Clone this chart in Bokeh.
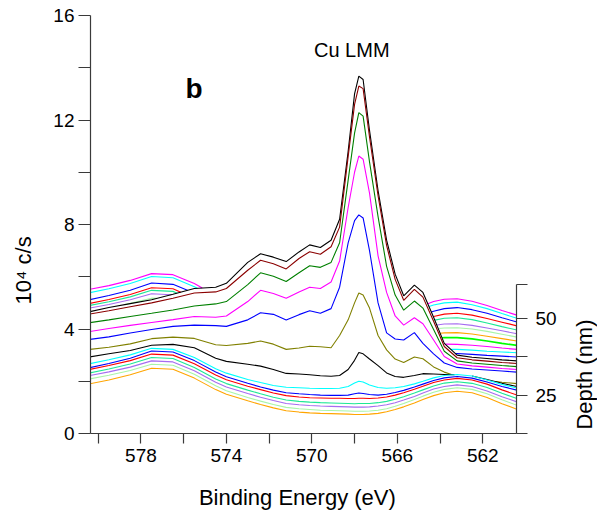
import math
from bokeh.plotting import figure
from bokeh.layouts import row
from bokeh.models import Range1d, LinearAxis, FixedTicker, Label
from bokeh.core.properties import value
from bokeh.embed import file_html
from bokeh.resources import INLINE

# ---------------- data ----------------
energy = [580.4, 579.5, 578.5, 577.5, 576.5, 575.5, 574.5, 574.0, 573.0, 572.4,
          571.8, 571.2, 570.6, 570.1, 569.6, 569.1, 568.7, 568.3, 568.0, 567.8,
          567.6, 567.3, 566.9, 566.5, 566.1, 565.7, 565.2, 564.8, 564.3, 563.8,
          563.2, 562.5, 561.8, 561.1, 560.4]

# front (surface) spectra, bottom of the stack
s01_orange = [1.90, 2.05, 2.25, 2.50, 2.46, 2.12, 1.68, 1.50, 1.25, 1.11, 0.98, 0.87, 0.82, 0.79, 0.77, 0.76, 0.75, 0.74, 0.73, 0.73, 0.73, 0.74, 0.77, 0.83, 0.92, 1.02, 1.17, 1.30, 1.45, 1.56, 1.62, 1.56, 1.38, 1.14, 0.93]
s02_palegreen = [2.09, 2.23, 2.41, 2.65, 2.61, 2.27, 1.83, 1.64, 1.38, 1.24, 1.11, 1.00, 0.95, 0.92, 0.89, 0.88, 0.87, 0.86, 0.85, 0.85, 0.85, 0.86, 0.89, 0.95, 1.04, 1.15, 1.30, 1.43, 1.58, 1.69, 1.75, 1.69, 1.52, 1.29, 1.08]
s03_purple = [2.22, 2.36, 2.54, 2.78, 2.74, 2.40, 1.96, 1.78, 1.53, 1.39, 1.26, 1.15, 1.10, 1.07, 1.05, 1.04, 1.03, 1.02, 1.01, 1.01, 1.01, 1.02, 1.05, 1.10, 1.18, 1.28, 1.42, 1.55, 1.70, 1.80, 1.86, 1.80, 1.63, 1.41, 1.21]
s04_teal = [2.32, 2.47, 2.66, 2.91, 2.87, 2.53, 2.09, 1.91, 1.66, 1.52, 1.39, 1.28, 1.23, 1.20, 1.18, 1.17, 1.16, 1.15, 1.14, 1.15, 1.15, 1.15, 1.18, 1.23, 1.31, 1.41, 1.55, 1.67, 1.82, 1.93, 1.98, 1.92, 1.76, 1.54, 1.34]
s05_red = [2.45, 2.60, 2.79, 3.04, 3.00, 2.67, 2.24, 2.06, 1.81, 1.68, 1.55, 1.45, 1.40, 1.37, 1.36, 1.35, 1.35, 1.34, 1.34, 1.35, 1.35, 1.34, 1.36, 1.40, 1.47, 1.56, 1.69, 1.81, 1.95, 2.05, 2.11, 2.05, 1.89, 1.67, 1.47]
s06_blue = [2.52, 2.68, 2.88, 3.16, 3.12, 2.79, 2.35, 2.17, 1.92, 1.78, 1.66, 1.56, 1.52, 1.49, 1.47, 1.46, 1.46, 1.47, 1.52, 1.55, 1.53, 1.49, 1.47, 1.50, 1.57, 1.65, 1.78, 1.89, 2.03, 2.13, 2.18, 2.12, 1.97, 1.80, 1.66]
s07_cyan = [2.67, 2.82, 3.01, 3.26, 3.22, 2.91, 2.48, 2.31, 2.07, 1.95, 1.84, 1.77, 1.75, 1.73, 1.72, 1.72, 1.73, 1.80, 1.93, 2.00, 1.97, 1.86, 1.76, 1.73, 1.75, 1.80, 1.90, 2.00, 2.13, 2.22, 2.26, 2.20, 2.05, 1.88, 1.74]
# Cu-rich spectra
s08_black = [2.93, 3.05, 3.18, 3.38, 3.41, 3.28, 2.88, 2.76, 2.65, 2.58, 2.45, 2.30, 2.28, 2.25, 2.21, 2.19, 2.22, 2.45, 2.80, 3.10, 3.05, 2.85, 2.60, 2.32, 2.18, 2.15, 2.22, 2.29, 2.28, 2.26, 2.25, 2.20, 2.07, 1.92, 1.80]
s09_olive = [3.22, 3.30, 3.43, 3.63, 3.69, 3.64, 3.40, 3.37, 3.45, 3.54, 3.42, 3.22, 3.27, 3.34, 3.32, 3.28, 3.75, 4.35, 5.00, 5.38, 5.30, 4.80, 3.75, 3.20, 2.85, 2.72, 2.93, 2.86, 2.55, 2.35, 2.18, 2.08, 2.02, 1.96, 1.91]
s10_blue = [3.60, 3.70, 3.85, 3.98, 4.10, 4.15, 4.13, 4.10, 4.35, 4.62, 4.56, 4.34, 4.55, 4.70, 4.60, 4.78, 5.60, 7.30, 8.15, 8.37, 8.25, 7.00, 5.00, 3.85, 3.62, 3.58, 3.86, 3.45, 3.05, 2.70, 2.53, 2.47, 2.43, 2.39, 2.35]
s11_magenta = [3.90, 4.02, 4.14, 4.25, 4.36, 4.48, 4.45, 4.50, 5.05, 5.48, 5.36, 5.18, 5.42, 5.60, 5.55, 5.80, 6.60, 8.65, 10.0, 10.62, 10.50, 9.20, 6.80, 5.40, 4.50, 4.15, 4.43, 4.20, 3.58, 2.95, 2.66, 2.59, 2.54, 2.49, 2.45]
s12_green = [4.24, 4.35, 4.48, 4.60, 4.73, 4.88, 4.96, 5.05, 5.70, 6.15, 6.02, 5.82, 6.15, 6.42, 6.36, 6.55, 7.30, 9.70, 11.5, 12.28, 12.15, 10.40, 8.30, 6.40, 5.30, 4.72, 5.07, 4.80, 3.98, 3.15, 2.78, 2.70, 2.65, 2.60, 2.56]
s13_brown = [4.57, 4.70, 4.85, 5.00, 5.18, 5.38, 5.42, 5.55, 6.25, 6.63, 6.50, 6.30, 6.70, 6.96, 6.86, 7.15, 7.90, 10.60, 12.60, 13.30, 13.20, 11.35, 9.10, 7.20, 5.90, 5.10, 5.52, 5.22, 4.30, 3.33, 2.90, 2.82, 2.77, 2.72, 2.68]
s14_black = [4.66, 4.82, 4.97, 5.12, 5.33, 5.55, 5.60, 5.75, 6.55, 6.88, 6.75, 6.58, 6.95, 7.22, 7.12, 7.40, 8.20, 10.80, 13.00, 13.68, 13.55, 11.60, 9.30, 7.40, 6.10, 5.27, 5.68, 5.40, 4.45, 3.45, 3.00, 2.92, 2.87, 2.82, 2.78]
# deep spectra, top of the stack
s15_blue = [3.88, 4.02, 4.19, 4.37, 4.34, 4.05, 3.68, 3.53, 3.32, 3.21, 3.11, 3.03, 2.99, 2.96, 2.94, 2.93, 2.92, 2.91, 2.90, 2.90, 2.90, 2.91, 2.93, 2.96, 2.99, 3.02, 3.04, 3.05, 3.05, 3.05, 3.06, 3.03, 2.99, 2.96, 2.93]
s16_cyan = [4.03, 4.17, 4.34, 4.52, 4.49, 4.20, 3.82, 3.67, 3.45, 3.33, 3.23, 3.14, 3.10, 3.07, 3.05, 3.04, 3.03, 3.02, 3.01, 3.01, 3.01, 3.02, 3.04, 3.08, 3.12, 3.17, 3.21, 3.23, 3.23, 3.22, 3.22, 3.19, 3.15, 3.12, 3.09]
s17_magenta = [4.18, 4.32, 4.49, 4.67, 4.64, 4.35, 3.96, 3.80, 3.57, 3.45, 3.35, 3.26, 3.21, 3.18, 3.16, 3.15, 3.14, 3.13, 3.12, 3.12, 3.12, 3.13, 3.15, 3.19, 3.24, 3.30, 3.37, 3.41, 3.42, 3.42, 3.41, 3.38, 3.33, 3.27, 3.22]
s18_lime = [4.33, 4.47, 4.64, 4.83, 4.80, 4.50, 4.10, 3.94, 3.70, 3.58, 3.47, 3.38, 3.33, 3.30, 3.28, 3.27, 3.26, 3.25, 3.24, 3.24, 3.24, 3.25, 3.28, 3.32, 3.38, 3.45, 3.54, 3.61, 3.65, 3.67, 3.67, 3.62, 3.54, 3.45, 3.37]
s19_orange = [4.48, 4.62, 4.80, 5.00, 4.97, 4.66, 4.24, 4.07, 3.83, 3.70, 3.58, 3.48, 3.43, 3.40, 3.38, 3.37, 3.36, 3.35, 3.34, 3.34, 3.34, 3.35, 3.38, 3.43, 3.50, 3.58, 3.68, 3.76, 3.82, 3.85, 3.86, 3.81, 3.72, 3.63, 3.54]
s20_palegreen = [4.64, 4.79, 4.98, 5.18, 5.15, 4.85, 4.42, 4.25, 4.00, 3.86, 3.73, 3.62, 3.57, 3.54, 3.52, 3.51, 3.50, 3.49, 3.48, 3.48, 3.48, 3.49, 3.52, 3.57, 3.64, 3.72, 3.83, 3.93, 4.00, 4.04, 4.05, 4.00, 3.91, 3.80, 3.69]
s21_purple = [4.80, 4.94, 5.12, 5.35, 5.31, 4.98, 4.55, 4.38, 4.13, 3.99, 3.86, 3.75, 3.70, 3.67, 3.65, 3.64, 3.63, 3.62, 3.61, 3.61, 3.61, 3.62, 3.65, 3.70, 3.77, 3.85, 3.96, 4.06, 4.14, 4.19, 4.20, 4.14, 4.04, 3.93, 3.82]
s22_teal = [4.90, 5.04, 5.23, 5.48, 5.44, 5.09, 4.65, 4.47, 4.22, 4.08, 3.95, 3.84, 3.79, 3.76, 3.74, 3.73, 3.72, 3.71, 3.70, 3.70, 3.70, 3.71, 3.74, 3.80, 3.88, 3.97, 4.10, 4.21, 4.33, 4.41, 4.43, 4.36, 4.23, 4.09, 3.96]
s23_red = [4.98, 5.13, 5.32, 5.58, 5.54, 5.19, 4.75, 4.57, 4.32, 4.18, 4.05, 3.94, 3.89, 3.86, 3.84, 3.83, 3.82, 3.81, 3.80, 3.80, 3.80, 3.81, 3.84, 3.90, 3.99, 4.09, 4.22, 4.35, 4.48, 4.57, 4.60, 4.53, 4.40, 4.26, 4.12]
s24_blue = [5.12, 5.28, 5.48, 5.76, 5.71, 5.37, 4.93, 4.75, 4.50, 4.36, 4.23, 4.12, 4.07, 4.04, 4.02, 4.01, 4.00, 3.99, 3.98, 3.98, 3.98, 3.99, 4.02, 4.08, 4.17, 4.27, 4.42, 4.55, 4.68, 4.78, 4.82, 4.74, 4.60, 4.43, 4.27]
s25_cyan = [5.39, 5.54, 5.74, 6.01, 5.96, 5.62, 5.17, 4.99, 4.74, 4.60, 4.47, 4.36, 4.31, 4.28, 4.26, 4.25, 4.24, 4.23, 4.22, 4.22, 4.22, 4.23, 4.26, 4.32, 4.41, 4.51, 4.66, 4.79, 4.92, 5.00, 5.03, 4.93, 4.78, 4.59, 4.41]
s26_magenta = [5.52, 5.66, 5.86, 6.12, 6.08, 5.74, 5.28, 5.10, 4.85, 4.71, 4.58, 4.47, 4.42, 4.39, 4.37, 4.36, 4.35, 4.34, 4.33, 4.33, 4.33, 4.34, 4.37, 4.43, 4.52, 4.62, 4.77, 4.90, 5.05, 5.14, 5.16, 5.06, 4.90, 4.71, 4.53]

# front-to-back order with colours
spectra = [
    (s01_orange, "#FFA500"), (s02_palegreen, "#A8F5A8"), (s03_purple, "#A66CF0"),
    (s04_teal, "#1EE896"), (s05_red, "#FF0000"), (s06_blue, "#0000FF"),
    (s07_cyan, "#00FFFF"), (s08_black, "#000000"), (s09_olive, "#808000"),
    (s10_blue, "#0000FF"), (s11_magenta, "#FF00FF"), (s12_green, "#008000"),
    (s13_brown, "#8B0000"), (s14_black, "#000000"), (s15_blue, "#0000FF"),
    (s16_cyan, "#00FFFF"), (s17_magenta, "#FF00FF"), (s18_lime, "#00FF00"),
    (s19_orange, "#FFA500"), (s20_palegreen, "#A8F5A8"), (s21_purple, "#A66CF0"),
    (s22_teal, "#1EE896"), (s23_red, "#FF0000"), (s24_blue, "#0000FF"),
    (s25_cyan, "#00FFFF"), (s26_magenta, "#FF00FF"),
]

y_ticks = [0, 4, 8, 12, 16]
y_minor = [2, 6, 10, 14]
x_ticks = [578, 574, 570, 566, 562]
x_minor = [580, 576, 572, 568, 564]
depth_ticks = [25, 50]
depth_minor = [12.5, 37.5, 61.2]

y_title = "10⁴ c/s"
x_title = "Binding Energy (eV)"
depth_title = "Depth (nm)"

FONT = "Liberation Sans"
AX = "#3a3a3a"
NB = "\u00a0"

MAIN_W = 566
FRAME_TOP, FRAME_BOTTOM = 15, 433
p = figure(width=MAIN_W, height=517,
           x_range=Range1d(580.36, 560.42), y_range=Range1d(0, 16),
           output_backend="svg", toolbar_location=None,
           min_border_left=90, min_border_right=50,
           min_border_top=FRAME_TOP, min_border_bottom=517 - FRAME_BOTTOM)
p.outline_line_color = None
p.xgrid.visible = False
p.ygrid.visible = False
p.background_fill_color = "white"
p.border_fill_color = "white"

# hidden-line (waterfall) rendering: a trace is visible only above all traces in front of it
def visible_pieces(k):
    yk = spectra[k][0]
    out_x, out_y = [], []
    cur_x, cur_y = [], []
    prev_full = False
    for i in range(len(energy) - 1):
        lo, hi = 0.0, 1.0
        for j in range(k):
            yj = spectra[j][0]
            d0 = yk[i] - yj[i]
            d1 = yk[i + 1] - yj[i + 1]
            if d0 <= 0 and d1 <= 0:
                lo, hi = 1.0, 0.0
                break
            if d0 > 0 and d1 > 0:
                continue
            t = d0 / (d0 - d1)
            if d0 > 0:
                hi = min(hi, t)
            else:
                lo = max(lo, t)
        if lo < hi:
            x0, x1 = energy[i], energy[i + 1]
            y0, y1 = yk[i], yk[i + 1]
            xa, ya = x0 + lo * (x1 - x0), y0 + lo * (y1 - y0)
            xb, yb = x0 + hi * (x1 - x0), y0 + hi * (y1 - y0)
            if prev_full and lo == 0.0 and cur_x:
                cur_x.append(xb); cur_y.append(yb)
            else:
                if cur_x:
                    out_x.append(cur_x); out_y.append(cur_y)
                cur_x, cur_y = [xa, xb], [ya, yb]
            prev_full = (hi == 1.0)
        else:
            prev_full = False
    if cur_x:
        out_x.append(cur_x); out_y.append(cur_y)
    return out_x, out_y

for k in range(len(spectra) - 1, -1, -1):
    xs, ys = visible_pieces(k)
    if xs:
        color = spectra[k][1]
        lw = 1.7 if color == "#00FF00" else 1.1
        p.multi_line(xs=xs, ys=ys, line_color=color, line_width=lw)

# axes
yax = p.yaxis[0]
yax.ticker = FixedTicker(ticks=y_ticks, minor_ticks=y_minor)
xax = p.xaxis[0]
xax.ticker = FixedTicker(ticks=x_ticks, minor_ticks=x_minor)

dax = LinearAxis(y_range_name="depth")
p.extra_y_ranges = {"depth": Range1d(12.5, 148.8)}
dax.bounds = (12.5, 61.2)
dax.ticker = FixedTicker(ticks=depth_ticks, minor_ticks=depth_minor)
p.add_layout(dax, "right")

for ax, tout, stand in ((yax, 12, 4), (xax, 10, 5), (dax, 11, 8)):
    ax.axis_line_color = AX
    ax.major_tick_line_color = AX
    ax.minor_tick_line_color = AX
    ax.axis_line_width = 1.2
    ax.major_tick_line_width = 1.2
    ax.minor_tick_line_width = 1.2
    ax.major_tick_out = tout
    ax.major_tick_in = 0
    ax.minor_tick_out = tout
    ax.minor_tick_in = 0
    ax.major_label_standoff = stand
    ax.major_label_text_font = FONT
    ax.major_label_text_font_size = "19px"
    ax.major_label_text_color = "black"
    ax.axis_label_text_font = FONT
    ax.axis_label_text_font_size = "22px"
    ax.axis_label_text_font_style = "normal"
    ax.axis_label_text_color = "black"

# axis titles (trailing no-break spaces shift the visible text along the axis)
yax.axis_label = y_title + NB * 15
yax.axis_label_standoff = 14
xax.axis_label = x_title + NB * 2
xax.axis_label_standoff = 20

# in-plot annotations
p.add_layout(Label(x=575.91, y=13.2, text="b", text_align="left",
                   text_baseline="alphabetic", text_font=FONT,
                   text_font_size="28px", text_font_style="bold", text_color="black"))
p.add_layout(Label(x=568.13, y=14.69, text="Cu LMM", text_align="center",
                   text_baseline="alphabetic", text_font=FONT,
                   text_font_size="20px", text_color="black"))

# narrow strip on the right holding the depth-axis title (reads bottom to top).
# Its frame is aligned with the main frame by the row layout, so its y range
# is expressed in page pixels of that frame.
STRIP_W = 597 - MAIN_W
p2 = figure(width=STRIP_W, height=517, x_range=Range1d(0, STRIP_W),
            y_range=Range1d(FRAME_BOTTOM, FRAME_TOP), output_backend="svg",
            toolbar_location=None, min_border=0, x_axis_type=None, y_axis_type=None)
p2.outline_line_color = None
p2.xgrid.visible = False
p2.ygrid.visible = False
p2.background_fill_color = "white"
p2.border_fill_color = "white"
p2.text(x=[584 - MAIN_W], y=[374], text=[depth_title], angle=math.pi / 2,
        text_align="center", text_baseline="middle",
        text_font=value(FONT), text_font_size="22px", text_color="black")

layout = row(p, p2, spacing=0)
open("out.html", "w").write(file_html(layout, INLINE))
